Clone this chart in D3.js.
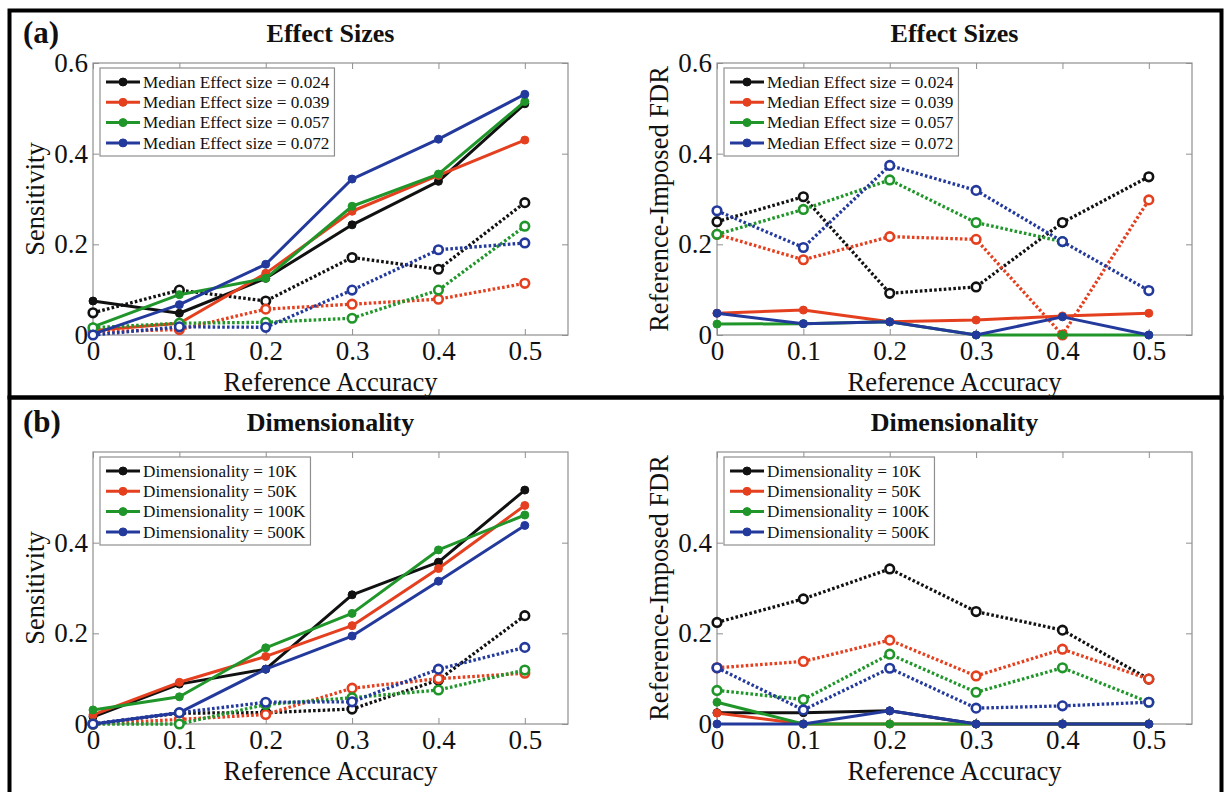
<!DOCTYPE html>
<html>
<head>
<meta charset="utf-8">
<script src="https://cdn.jsdelivr.net/npm/d3@7"></script>
<style>
  body { margin: 0; background: #fff; }
  svg { display: block; }
  text { font-family: "Liberation Serif", "Times New Roman", serif; fill: #111; }
</style>
</head>
<body>
<div id="chart"></div>
<script>
// x axis, shared by all four plots
const accuracy = [0, 0.1, 0.2, 0.3, 0.4, 0.5];
const xTickLabels = ['0', '0.1', '0.2', '0.3', '0.4', '0.5'];
const yTicksTop = [0, 0.2, 0.4, 0.6];
const yTickLabelsTop = ['0', '0.2', '0.4', '0.6'];
const yTicksBottom = [0, 0.2, 0.4];
const yTickLabelsBottom = ['0', '0.2', '0.4'];

const effectNames = [
    'Median Effect size = 0.024',
    'Median Effect size = 0.039',
    'Median Effect size = 0.057',
    'Median Effect size = 0.072'
];
const dimNames = [
    'Dimensionality = 10K',
    'Dimensionality = 50K',
    'Dimensionality = 100K',
    'Dimensionality = 500K'
];

// (a) effect sizes: solid lines (filled markers) and dotted lines (open markers)
const effSensSolid = [
    [0.075, 0.048, 0.125, 0.243, 0.339, 0.510],
    [0.010, 0.026, 0.136, 0.273, 0.352, 0.430],
    [0.018, 0.089, 0.125, 0.284, 0.355, 0.515],
    [0.002, 0.067, 0.156, 0.344, 0.432, 0.531]
];
const effSensDotted = [
    [0.049, 0.099, 0.075, 0.171, 0.145, 0.292],
    [0.007, 0.012, 0.057, 0.068, 0.079, 0.114],
    [0.016, 0.026, 0.028, 0.037, 0.099, 0.240],
    [0.000, 0.018, 0.017, 0.099, 0.188, 0.203]
];
const effFdrSolid = [
    [null, null, null, null, null, null],
    [0.048, 0.055, 0.029, 0.033, 0.042, 0.048],
    [0.024, 0.025, 0.029, 0.000, 0.000, 0.000],
    [0.048, 0.025, 0.029, 0.000, 0.040, 0.000]
];
const effFdrDotted = [
    [0.250, 0.305, 0.092, 0.106, 0.248, 0.349],
    [0.222, 0.166, 0.217, 0.211, 0.000, 0.298],
    [0.222, 0.277, 0.342, 0.248, 0.206, null],
    [0.274, 0.193, 0.374, 0.319, 0.206, 0.098]
];

// (b) dimensionality
const dimSensSolid = [
    [0.016, 0.088, 0.121, 0.285, 0.357, 0.516],
    [0.020, 0.092, 0.149, 0.217, 0.343, 0.482],
    [0.031, 0.060, 0.168, 0.244, 0.384, 0.461],
    [0.000, 0.025, 0.121, 0.194, 0.315, 0.438]
];
const dimSensDotted = [
    [0.000, 0.024, 0.025, 0.033, 0.097, 0.239],
    [0.000, 0.010, 0.021, 0.079, 0.100, 0.112],
    [0.000, 0.000, 0.043, 0.058, 0.075, 0.119],
    [0.000, 0.025, 0.048, 0.049, 0.121, 0.169]
];
const dimFdrSolid = [
    [0.025, 0.025, 0.029, 0.000, 0.000, 0.000],
    [0.024, 0.000, 0.000, 0.000, 0.000, 0.000],
    [0.048, 0.000, 0.000, 0.000, 0.000, 0.000],
    [0.000, 0.000, 0.029, 0.000, 0.000, 0.000]
];
const dimFdrDotted = [
    [0.224, 0.276, 0.342, 0.248, 0.207, 0.099],
    [0.124, 0.138, 0.185, 0.106, 0.165, 0.099],
    [0.074, 0.054, 0.154, 0.070, 0.124, 0.048],
    [0.124, 0.031, 0.123, 0.035, 0.040, 0.048]
];

const seriesColors = ['#111111', '#e4401f', '#20962a', '#233a9c'];
const BOX_GRAY = '#8f8f8f';
const PLOT_W = 475;

const panels = [
    { label: '(a)', title: 'Effect Sizes', yLabel: 'Sensitivity', left: 93, top: 63, bottom: 335,
      names: effectNames, solid: effSensSolid, dotted: effSensDotted, yTicks: yTicksTop, yTickLabels: yTickLabelsTop },
    { label: null, title: 'Effect Sizes', yLabel: 'Reference-Imposed FDR', left: 717, top: 63, bottom: 335,
      names: effectNames, solid: effFdrSolid, dotted: effFdrDotted, yTicks: yTicksTop, yTickLabels: yTickLabelsTop },
    { label: '(b)', title: 'Dimensionality', yLabel: 'Sensitivity', left: 93, top: 452, bottom: 724,
      names: dimNames, solid: dimSensSolid, dotted: dimSensDotted, yTicks: yTicksBottom, yTickLabels: yTickLabelsBottom },
    { label: null, title: 'Dimensionality', yLabel: 'Reference-Imposed FDR', left: 717, top: 452, bottom: 724,
      names: dimNames, solid: dimFdrSolid, dotted: dimFdrDotted, yTicks: yTicksBottom, yTickLabels: yTickLabelsBottom }
];

const svg = d3.select('#chart').append('svg')
    .attr('width', 1227)
    .attr('height', 792);

svg.append('rect').attr('width', 1227).attr('height', 792).attr('fill', '#fff');

// outer frames of (a) and (b)
svg.append('rect')
    .attr('x', 9.5).attr('y', 10.5).attr('width', 1212).attr('height', 387)
    .attr('fill', 'none').attr('stroke', '#000').attr('stroke-width', 4);
svg.append('rect')
    .attr('x', 9.5).attr('y', 397.5).attr('width', 1212).attr('height', 420)
    .attr('fill', 'none').attr('stroke', '#000').attr('stroke-width', 4);

function styleAxis(g, showText) {
    g.attr('font-size', null).attr('font-family', null);
    g.select('.domain').remove();
    g.selectAll('line').attr('stroke', BOX_GRAY);
    if (showText) {
        g.selectAll('text').style('font-size', '27px').attr('fill', '#111');
    } else {
        g.selectAll('text').remove();
    }
}

panels.forEach(function drawPanel(p) {
    var x = d3.scaleLinear().domain([0, 0.55]).range([p.left, p.left + PLOT_W]);
    var y = d3.scaleLinear().domain([0, 0.6]).range([p.bottom, p.top]);
    var g = svg.append('g');

    // box
    g.append('rect')
        .attr('x', x(0)).attr('y', y(0.6))
        .attr('width', x(0.55) - x(0)).attr('height', y(0) - y(0.6))
        .attr('fill', '#fff').attr('stroke', BOX_GRAY).attr('stroke-width', 1.2);

    // ticks on all four sides, pointing inward
    g.append('g').attr('transform', 'translate(0,' + y(0) + ')')
        .call(d3.axisBottom(x).tickValues(accuracy).tickSize(-6).tickPadding(6)
            .tickFormat(function (d, i) { return xTickLabels[i]; }))
        .call(styleAxis, true);
    g.append('g').attr('transform', 'translate(0,' + y(0.6) + ')')
        .call(d3.axisTop(x).tickValues(accuracy).tickSize(-6))
        .call(styleAxis, false);
    g.append('g').attr('transform', 'translate(' + x(0) + ',0)')
        .call(d3.axisLeft(y).tickValues(p.yTicks).tickSize(-6).tickPadding(5)
            .tickFormat(function (d, i) { return p.yTickLabels[i]; }))
        .call(styleAxis, true);
    g.append('g').attr('transform', 'translate(' + x(0.55) + ',0)')
        .call(d3.axisRight(y).tickValues(p.yTicks).tickSize(-6))
        .call(styleAxis, false);

    // titles and labels
    g.append('text')
        .attr('x', (x(0) + x(0.55)) / 2).attr('y', p.top - 21)
        .attr('text-anchor', 'middle')
        .style('font-size', '26px').style('font-weight', 'bold')
        .text(p.title);
    if (p.label) {
        g.append('text')
            .attr('x', 23).attr('y', p.top - 20)
            .style('font-size', '31px').style('font-weight', 'bold')
            .text(p.label);
    }
    g.append('text')
        .attr('x', (x(0) + x(0.55)) / 2).attr('y', y(0) + 56)
        .attr('text-anchor', 'middle')
        .style('font-size', '26.5px')
        .text('Reference Accuracy');
    g.append('text')
        .attr('transform', 'translate(' + (x(0) - 49) + ',' + ((y(0) + y(0.6)) / 2) + ') rotate(-90)')
        .attr('text-anchor', 'middle')
        .style('font-size', '26.5px')
        .text(p.yLabel);

    var line = d3.line()
        .defined(function (d) { return d !== null; })
        .x(function (d, i) { return x(accuracy[i]); })
        .y(function (d) { return y(d); });

    // series: solid then dotted for each colour
    p.solid.forEach(function (vals, s) {
        var col = seriesColors[s];
        g.append('path').datum(vals)
            .attr('d', line)
            .attr('fill', 'none').attr('stroke', col).attr('stroke-width', 3)
            .attr('stroke-linejoin', 'round');
        g.selectAll(null).data(vals.map(function (v, i) { return { v: v, i: i }; })
                .filter(function (d) { return d.v !== null; }))
            .enter().append('circle')
            .attr('cx', function (d) { return x(accuracy[d.i]); })
            .attr('cy', function (d) { return y(d.v); })
            .attr('r', 4)
            .attr('fill', col).attr('stroke', col).attr('stroke-width', 1);

        var dv = p.dotted[s];
        g.append('path').datum(dv)
            .attr('d', line)
            .attr('fill', 'none').attr('stroke', col).attr('stroke-width', 3.3)
            .attr('stroke-dasharray', '2.6,2.2');
        g.selectAll(null).data(dv.map(function (v, i) { return { v: v, i: i }; })
                .filter(function (d) { return d.v !== null; }))
            .enter().append('circle')
            .attr('cx', function (d) { return x(accuracy[d.i]); })
            .attr('cy', function (d) { return y(d.v); })
            .attr('r', 4.3)
            .attr('fill', '#fff').attr('stroke', col).attr('stroke-width', 2.6);
    });

    // legend
    var lg = g.append('g').attr('transform', 'translate(' + (x(0) + 7) + ',' + (p.top + 5) + ')');
    var lbox = lg.append('rect')
        .attr('height', 88)
        .attr('fill', '#fff').attr('stroke', BOX_GRAY).attr('stroke-width', 1.2);
    var maxLen = 0;
    p.names.forEach(function (name, s) {
        var cy = 14 + s * 20.3;
        var col = seriesColors[s];
        lg.append('line')
            .attr('x1', 6).attr('x2', 40).attr('y1', cy).attr('y2', cy)
            .attr('stroke', col).attr('stroke-width', 3);
        lg.append('circle')
            .attr('cx', 23).attr('cy', cy).attr('r', 4)
            .attr('fill', col).attr('stroke', col);
        var t = lg.append('text')
            .attr('x', 43).attr('y', cy).attr('dy', '0.33em')
            .style('font-size', '17.2px')
            .text(name);
        maxLen = Math.max(maxLen, t.node().getComputedTextLength());
    });
    lbox.attr('width', 43 + maxLen + 5);
});
</script>
</body>
</html>
